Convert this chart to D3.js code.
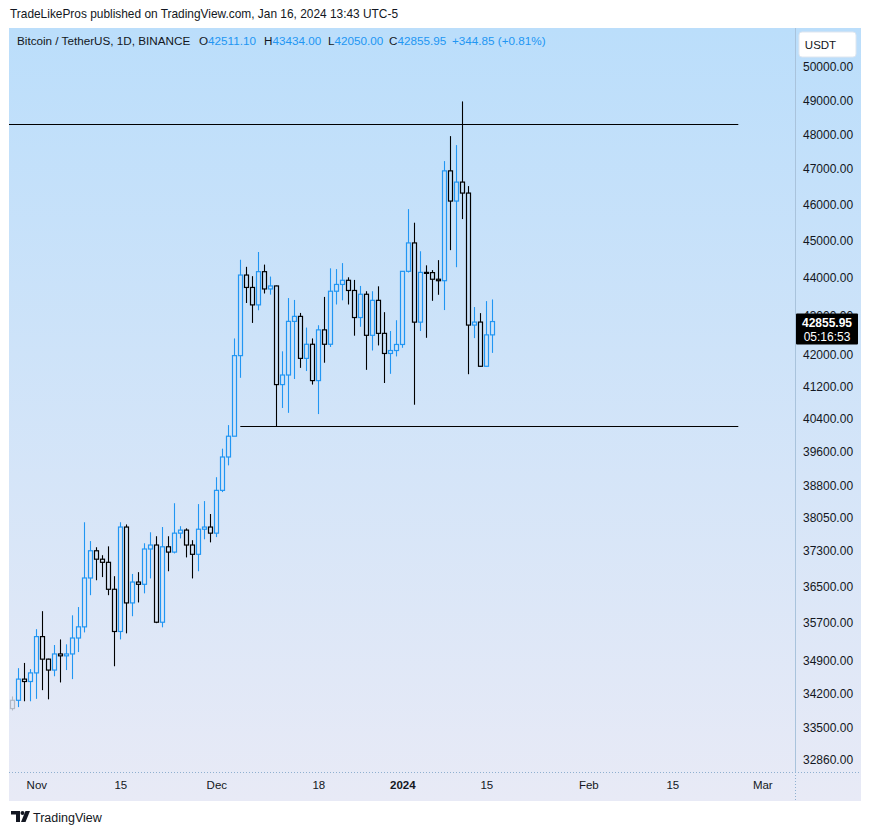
<!DOCTYPE html>
<html><head><meta charset="utf-8">
<script src="https://cdn.jsdelivr.net/npm/d3@7"></script>
<style>
body{margin:0;background:#fff;}
svg{display:block;font-family:"Liberation Sans",Arial,sans-serif;}
</style>
</head><body>
<svg id="chart" width="870" height="835"></svg>
<script>
// ---------------- DATA ----------------
const dates = ["2023-10-28","2023-10-29","2023-10-30","2023-10-31","2023-11-01","2023-11-02","2023-11-03","2023-11-04","2023-11-05","2023-11-06",
"2023-11-07","2023-11-08","2023-11-09","2023-11-10","2023-11-11","2023-11-12","2023-11-13","2023-11-14","2023-11-15","2023-11-16",
"2023-11-17","2023-11-18","2023-11-19","2023-11-20","2023-11-21","2023-11-22","2023-11-23","2023-11-24","2023-11-25","2023-11-26",
"2023-11-27","2023-11-28","2023-11-29","2023-11-30","2023-12-01","2023-12-02","2023-12-03","2023-12-04","2023-12-05","2023-12-06",
"2023-12-07","2023-12-08","2023-12-09","2023-12-10","2023-12-11","2023-12-12","2023-12-13","2023-12-14","2023-12-15","2023-12-16",
"2023-12-17","2023-12-18","2023-12-19","2023-12-20","2023-12-21","2023-12-22","2023-12-23","2023-12-24","2023-12-25","2023-12-26",
"2023-12-27","2023-12-28","2023-12-29","2023-12-30","2023-12-31","2024-01-01","2024-01-02","2024-01-03","2024-01-04","2024-01-05",
"2024-01-06","2024-01-07","2024-01-08","2024-01-09","2024-01-10","2024-01-11","2024-01-12","2024-01-13","2024-01-14","2024-01-15","2024-01-16"];

const opens = [33900,34070,34510,34460,34640,35410,34930,34700,35040,35000,
35040,35380,35620,36690,37300,37110,37040,36440,35520,37840,
36140,36600,36550,37340,37430,35720,37390,37270,37700,37770,
37430,37220,37790,37840,37700,38690,39480,39980,41980,44080,
43750,43290,44170,43710,43790,41250,41490,42860,42990,41910,
42270,41350,42640,42270,43650,43830,43940,43670,42960,43570,
42500,43410,42550,42035,42110,42265,44179,44946,42840,44151,
44145,43968,43929,46951,46100,46633,46324,42764,42842,41710,42511.10];

const highs = [34150,34740,34850,34720,35570,35960,34940,35230,35350,35245,
35870,36050,37950,37520,37380,37200,37400,36730,37950,37900,
36780,36820,37470,37720,37630,37840,37630,38390,37860,37810,
37540,38370,38440,38140,39000,39680,40250,42420,44490,44300,
44050,44700,44360,44040,43800,42090,43470,43420,43080,42700,
42420,42760,43500,44260,44240,44400,44020,43950,43790,43650,
43650,43780,43100,42610,42890,44184,45876,45500,44720,44340,
44212,44480,47230,47950,47690,48969,46520,43234,43075,43390,43434.00];

const lows = [33860,33930,34050,34050,34100,34280,34090,34570,34440,34700,
34510,35080,35500,36310,36640,36710,36310,34780,35350,35480,
35850,36150,36350,36680,35700,35610,36840,37240,37580,37150,
36680,36840,37560,37490,37610,38650,39280,39980,41420,43340,
42820,43150,43590,43560,40222,40670,40550,41390,41670,41590,
41250,40520,41800,42200,43300,43410,43300,42490,42720,41620,
42110,42240,41290,41520,41960,42180,44148,40750,42610,42436,
43397,43556,43155,44750,44290,45600,41510,42428,41700,41700,42050.00];

const closes = [34070,34510,34460,34640,35410,34930,34700,35040,35000,35040,
35380,35620,36690,37300,37110,37040,36440,35520,37840,36140,
36600,36550,37340,37430,35720,37390,37270,37700,37770,37430,
37220,37790,37840,37700,38690,39480,39980,41980,44080,43750,
43290,44170,43710,43790,41250,41490,42860,42990,41910,42270,
41350,42640,42270,43650,43830,43940,43670,42960,43570,42500,
43410,42550,42035,42110,42265,44179,44946,42840,44151,44145,
43968,43929,46951,46100,46633,46324,42764,42842,41710,42511.10,42855.95];

const priceTicks = [50000,49000,48000,47000,46000,45000,44000,43000,42000,41200,40400,39600,38800,38050,37300,36500,35700,34900,34200,33500,32860];
const timeTicks = ["2023-11-01","2023-11-15","2023-12-01","2023-12-18","2024-01-01","2024-01-15","2024-02-01","2024-02-15","2024-03-01"];
const timeTickLabels = ["Nov","15","Dec","18","2024","15","Feb","15","Mar"];
const levelPrices = [48300, 40222];
const levelStarts = ["2023-10-20","2023-12-05"];
const levelEnds = ["2024-02-26","2024-02-26"];
const lastPrice = 42855.95;
const countdown = "05:16:53";

// ---------------- SETUP ----------------
const parse = d3.utcParse("%Y-%m-%d");
const candles = dates.map((d,i)=>({date:parse(d),o:opens[i],h:highs[i],l:lows[i],c:closes[i],i}));

const svg = d3.select("#chart");
const W = 870, H = 835;
const panel = {x:9, y:28, w:852, h:773};
const plot = {x0:9, x1:795, y0:28, y1:772};

const x = d3.scaleUtc().domain([parse("2023-10-28"), parse("2024-03-01")]).range([12.3, 762.3]);
const y = d3.scaleLog().domain([32860, 50000]).range([760, 67]);

const BLUE = "#2196f3", DOWN = "#000000", TXT = "#131722";

const defs = svg.append("defs");
const grad = defs.append("linearGradient").attr("id","bg").attr("x1",0).attr("y1",0).attr("x2",0).attr("y2",1);
grad.append("stop").attr("offset","0%").attr("stop-color","#bbdefb");
grad.append("stop").attr("offset","100%").attr("stop-color","#e8eaf6");
defs.append("clipPath").attr("id","plotclip").append("rect")
  .attr("x",plot.x0).attr("y",plot.y0).attr("width",plot.x1-plot.x0).attr("height",plot.y1-plot.y0);

svg.append("rect").attr("width",W).attr("height",H).attr("fill","#fff");
svg.append("rect").attr("x",panel.x).attr("y",panel.y).attr("width",panel.w).attr("height",panel.h).attr("fill","url(#bg)");

// top caption
svg.append("text").attr("x",10).attr("y",18).attr("font-size",11.9).attr("fill",TXT)
  .text("TradeLikePros published on TradingView.com, Jan 16, 2024 13:43 UTC-5");

// separators
svg.append("line").attr("x1",plot.x1+0.5).attr("x2",plot.x1+0.5).attr("y1",plot.y0).attr("y2",plot.y1)
  .attr("stroke","#a9c3dc").attr("stroke-width",1);
svg.append("line").attr("x1",plot.x1+0.5).attr("x2",plot.x1+0.5).attr("y1",plot.y1).attr("y2",panel.y+panel.h)
  .attr("stroke","#8fb0d0").attr("stroke-width",1).attr("stroke-dasharray","1,2");
svg.append("line").attr("x1",panel.x).attr("x2",panel.x+panel.w).attr("y1",plot.y1+0.5).attr("y2",plot.y1+0.5)
  .attr("stroke","#8fb0d0").attr("stroke-width",1).attr("stroke-dasharray","1,2");

// ---------------- CANDLES ----------------
const g = svg.append("g").attr("clip-path","url(#plotclip)");
const colorOf = d => d.i===0 ? "#b0b8c4" : (d.c>=d.o ? BLUE : DOWN);
const cx = d => Math.round(x(d.date))+0.5;
const cg = g.selectAll("g.candle").data(candles).join("g").attr("class","candle");
cg.append("line")
  .attr("x1",cx).attr("x2",cx)
  .attr("y1",d=>y(d.h)).attr("y2",d=>y(Math.max(d.o,d.c)))
  .attr("stroke",colorOf).attr("stroke-width",1.1);
cg.append("line")
  .attr("x1",cx).attr("x2",cx)
  .attr("y1",d=>y(Math.min(d.o,d.c))).attr("y2",d=>y(d.l))
  .attr("stroke",colorOf).attr("stroke-width",1.1);
cg.append("rect")
  .attr("x",d=>cx(d)-2).attr("width",4)
  .attr("y",d=>y(Math.max(d.o,d.c))).attr("height",d=>Math.max(1,y(Math.min(d.o,d.c))-y(Math.max(d.o,d.c))))
  .attr("fill","none").attr("stroke",colorOf).attr("stroke-width",1.2);

// level lines
levelPrices.forEach((p,k)=>{
  g.append("line").attr("x1",x(parse(levelStarts[k]))).attr("x2",x(parse(levelEnds[k])))
   .attr("y1",Math.round(y(p))+0.5).attr("y2",Math.round(y(p))+0.5)
   .attr("stroke","#000").attr("stroke-width",1);
});

// ---------------- AXES ----------------
const ly = y(lastPrice);
const yAxis = d3.axisRight(y).tickValues(priceTicks).tickFormat(d3.format(".2f")).tickSize(0).tickPadding(0);
const yaWrap = svg.append("g");
const ya = yaWrap.append("g").attr("transform",`translate(${plot.x1+8},0)`).call(yAxis);
ya.select(".domain").remove();
ya.selectAll("text").attr("font-size",12).attr("fill",TXT).attr("font-family","Liberation Sans, Arial, sans-serif");

const xAxis = d3.axisBottom(x).tickValues(timeTicks.map(parse)).tickFormat((d,i)=>timeTickLabels[i]).tickSize(0).tickPadding(0);
const xa = svg.append("g").attr("transform",`translate(0,${plot.y1+9})`).call(xAxis);
xa.select(".domain").remove();
xa.selectAll("text").attr("font-size",11.5).attr("fill",TXT).attr("font-family","Liberation Sans, Arial, sans-serif")
  .attr("font-weight",(d,i)=>timeTickLabels[i]==="2024"?"bold":"normal");

// last price box (drawn over the price scale, hiding the nearby tick label like the platform does)
svg.append("rect").attr("x",796).attr("y",ly-8).attr("width",62).attr("height",31).attr("fill","#000").attr("rx",1);
svg.append("text").attr("x",827).attr("y",ly+5).attr("text-anchor","middle").attr("font-size",12)
  .attr("font-weight","bold").attr("fill","#fff").text(d3.format(".2f")(lastPrice));
svg.append("text").attr("x",827).attr("y",ly+19.5).attr("text-anchor","middle").attr("font-size",12)
  .attr("fill","#fff").text(countdown);

// USDT box
svg.append("rect").attr("x",799).attr("y",32).attr("width",57).attr("height",25).attr("rx",3)
  .attr("fill","#fff").attr("stroke","#dfe6ef");
svg.append("text").attr("x",820.5).attr("y",48.5).attr("text-anchor","middle").attr("font-size",11.5).attr("fill",TXT).text("USDT");

// legend line
svg.append("text").attr("x",17).attr("y",45).attr("font-size",11.7).attr("fill",TXT).text("Bitcoin / TetherUS, 1D, BINANCE");
const legendItems = [["O",opens[80]],["H",highs[80]],["L",lows[80]],["C",closes[80]]];
const legendX = [199,264,328,389];
legendItems.forEach((it,k)=>{
  const t = svg.append("text").attr("x",legendX[k]).attr("y",45).attr("font-size",11.7);
  t.append("tspan").attr("fill",TXT).text(it[0]);
  t.append("tspan").attr("fill",BLUE).text(d3.format(".2f")(it[1]));
});
const chg = closes[80]-closes[79];
svg.append("text").attr("x",452).attr("y",45).attr("font-size",11.7).attr("fill",BLUE)
  .text(`+${d3.format(".2f")(chg)} (+${d3.format(".2f")(chg/closes[79]*100)}%)`);

// footer logo
const logo = svg.append("g").attr("fill","#131722");
logo.append("path").attr("d","M11 811 h9 v11 h-4 v-7.5 h-5 z");
logo.append("circle").attr("cx",22.5).attr("cy",813).attr("r",2);
logo.append("path").attr("d","M25.5 811 h4.5 l-4.5 11 h-4.5 z");
svg.append("text").attr("x",33).attr("y",821.5).attr("font-size",12.5).attr("fill","#131722").text("TradingView");
</script>
</body></html>
